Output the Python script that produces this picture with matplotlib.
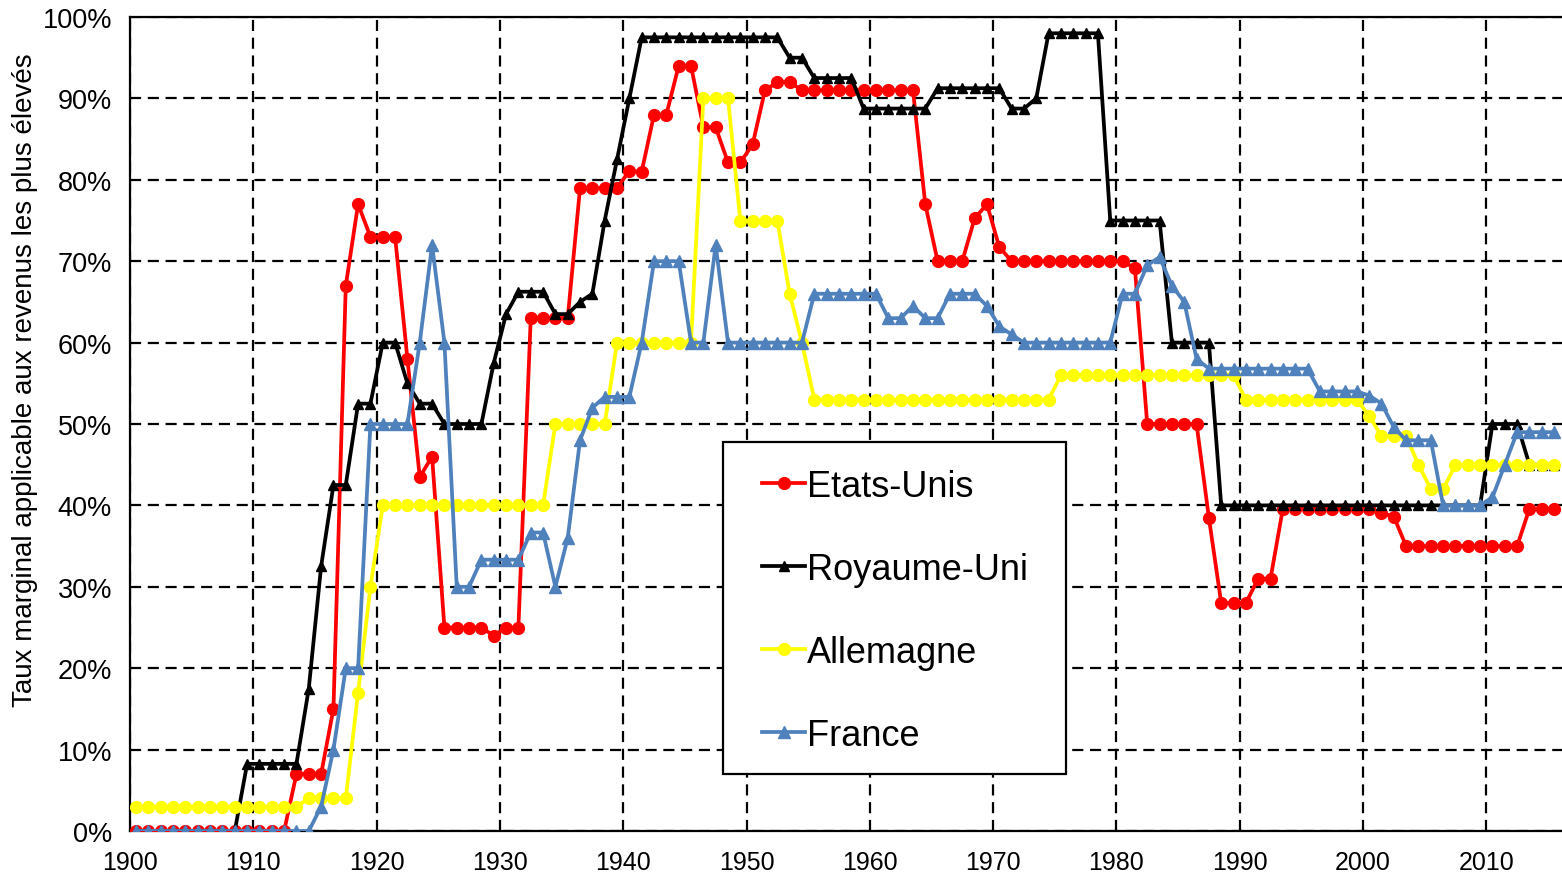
import matplotlib.pyplot as plt
from matplotlib.patches import Rectangle

plt.rcParams['font.family'] = ['Liberation Sans', 'DejaVu Sans']

# Taux marginal supérieur de l'impôt sur le revenu, 1900-2015 (%)
years = list(range(1900, 2016))

etats_unis = [
    0, 0, 0, 0, 0, 0, 0, 0, 0, 0,
    0, 0, 0, 7, 7, 7, 15, 67, 77, 73,
    73, 73, 58, 43.5, 46, 25, 25, 25, 25, 24,
    25, 25, 63, 63, 63, 63, 79, 79, 79, 79,
    81.1, 81, 88, 88, 94, 94, 86.45, 86.45, 82.13, 82.13,
    84.36, 91, 92, 92, 91, 91, 91, 91, 91, 91,
    91, 91, 91, 91, 77, 70, 70, 70, 75.25, 77,
    71.75, 70, 70, 70, 70, 70, 70, 70, 70, 70,
    70, 69.13, 50, 50, 50, 50, 50, 38.5, 28, 28,
    28, 31, 31, 39.6, 39.6, 39.6, 39.6, 39.6, 39.6, 39.6,
    39.6, 39.1, 38.6, 35, 35, 35, 35, 35, 35, 35,
    35, 35, 35, 39.6, 39.6, 39.6,
]

royaume_uni = [
    0, 0, 0, 0, 0, 0, 0, 0, 0, 8.25,
    8.25, 8.25, 8.25, 8.25, 17.5, 32.5, 42.5, 42.5, 52.5, 52.5,
    60, 60, 55, 52.5, 52.5, 50, 50, 50, 50, 57.5,
    63.5, 66.25, 66.25, 66.25, 63.5, 63.5, 65, 66, 75, 82.5,
    90, 97.5, 97.5, 97.5, 97.5, 97.5, 97.5, 97.5, 97.5, 97.5,
    97.5, 97.5, 97.5, 95, 95, 92.5, 92.5, 92.5, 92.5, 88.75,
    88.75, 88.75, 88.75, 88.75, 88.75, 91.25, 91.25, 91.25, 91.25, 91.25,
    91.25, 88.75, 88.75, 90, 98, 98, 98, 98, 98, 75,
    75, 75, 75, 75, 60, 60, 60, 60, 40, 40,
    40, 40, 40, 40, 40, 40, 40, 40, 40, 40,
    40, 40, 40, 40, 40, 40, 40, 40, 40, 40,
    50, 50, 50, 45, 45, 45,
]

allemagne = [
    3, 3, 3, 3, 3, 3, 3, 3, 3, 3,
    3, 3, 3, 3, 4, 4, 4, 4, 17, 30,
    40, 40, 40, 40, 40, 40, 40, 40, 40, 40,
    40, 40, 40, 40, 50, 50, 50, 50, 50, 60,
    60, 60, 60, 60, 60, 60, 90, 90, 90, 75,
    75, 75, 75, 66, 60, 53, 53, 53, 53, 53,
    53, 53, 53, 53, 53, 53, 53, 53, 53, 53,
    53, 53, 53, 53, 53, 56, 56, 56, 56, 56,
    56, 56, 56, 56, 56, 56, 56, 56, 56, 56,
    53, 53, 53, 53, 53, 53, 53, 53, 53, 53,
    51, 48.5, 48.5, 48.5, 45, 42, 42, 45, 45, 45,
    45, 45, 45, 45, 45, 45,
]

france = [
    0, 0, 0, 0, 0, 0, 0, 0, 0, 0,
    0, 0, 0, 0, 0, 3, 10, 20, 20, 50,
    50, 50, 50, 60, 72, 60, 30, 30, 33.33, 33.33,
    33.33, 33.33, 36.67, 36.67, 30, 36, 48, 52, 53.33, 53.33,
    53.33, 60, 70, 70, 70, 60, 60, 72, 60, 60,
    60, 60, 60, 60, 60, 66, 66, 66, 66, 66,
    66, 63, 63, 64.5, 63, 63, 66, 66, 66, 64.5,
    62, 61, 60, 60, 60, 60, 60, 60, 60, 60,
    66, 66, 69.5, 70.5, 67, 65, 58, 56.8, 56.8, 56.8,
    56.8, 56.8, 56.8, 56.8, 56.8, 56.8, 54, 54, 54, 54,
    53.5, 52.5, 49.6, 48, 48, 48, 40, 40, 40, 40,
    41, 45, 49, 49, 49, 49,
]

decades = list(range(1900, 2020, 10))
pct_ticks = list(range(0, 101, 10))

W, H = 1562, 879
fig = plt.figure(figsize=(W / 100, H / 100), dpi=100)
ax = fig.add_axes([130 / W, 47 / H, (W - 130) / W, 814 / H])

series = [
    (etats_unis, 'Etats-Unis', '#FF0000', 'o', 8.5),
    (royaume_uni, 'Royaume-Uni', 'black', '^', 7),
    (allemagne, 'Allemagne', '#FFFF00', 'o', 8.5),
    (france, 'France', '#4F81BD', '^', 9),
]
for vals, name, col, mk, ms in series:
    ax.plot(years, vals, color=col, lw=2.7, marker=mk, ms=ms,
            mfc=col, mec=col, label=name, zorder=3)

# category-style axis: gridlines sit half a year before each point
ax.set_xlim(1899.5, 1899.5 + (W - 130) / 12.33)
ax.set_ylim(0, 100)
ax.set_xticks([d - 0.5 for d in decades])
ax.set_xticklabels([str(d) for d in decades])
ax.set_yticks(pct_ticks)
ax.set_yticklabels([f"{p}%" for p in pct_ticks])
ax.tick_params(length=0, colors='black')
ax.tick_params(axis='x', labelsize=18, pad=14)
ax.tick_params(axis='y', labelsize=19.5, pad=13)

ax.grid(True, color='black', lw=1.6, ls=(0, (5, 3)), zorder=1)
ax.set_axisbelow(True)
for side in ('top', 'left', 'bottom'):
    ax.spines[side].set_linewidth(1.6)
ax.spines['right'].set_visible(False)

ax.set_ylabel('Taux marginal applicable aux revenus les plus élevés',
              fontsize=20)
ax.yaxis.set_label_coords(-0.064, 0.555)

# legend box
ax.add_patch(Rectangle((723 / W, 1 - 775 / H), 343 / W, 332 / H,
                       transform=fig.transFigure, facecolor='white',
                       edgecolor='black', lw=1.6, zorder=4, clip_on=False))
leg = ax.legend(loc='upper left', bbox_to_anchor=(762 / W, 1 - 470 / H),
                bbox_transform=fig.transFigure, frameon=False, fontsize=26,
                handlelength=1.2, handletextpad=0.05, labelspacing=1.325,
                borderpad=0, borderaxespad=0, numpoints=1)
leg.set_zorder(5)

fig.savefig('out.png', dpi=100)
